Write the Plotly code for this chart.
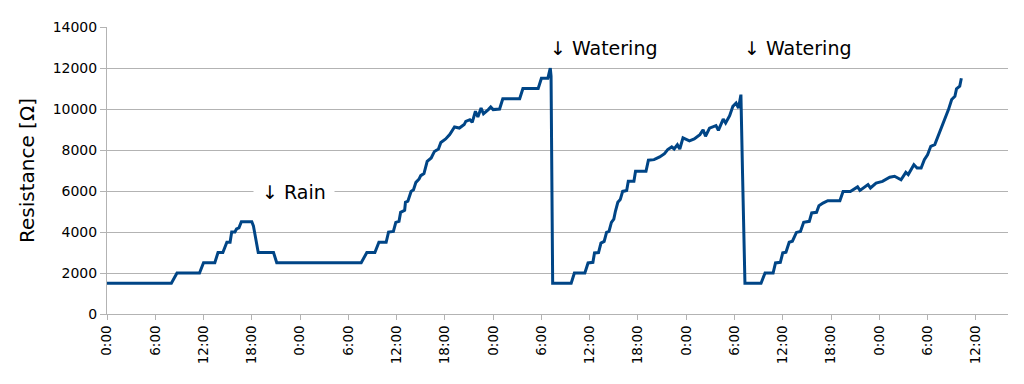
import plotly.graph_objects as go

# time in hours since the first midnight, and measured resistance in ohms
hours = [0, 8.0, 8.7, 11.5, 12.0, 13.4, 13.8, 14.4, 14.9, 15.3, 15.5, 15.9, 16.1, 16.4, 16.7, 18.0,
         18.2, 18.4, 18.6, 18.8, 20.7, 21.1, 31.6, 32.3, 33.3,
         33.8, 34.7, 35.0, 35.6, 35.9, 36.3, 36.5, 37.0, 37.1, 37.4, 37.8, 38.1, 38.4, 38.8, 39.0,
         39.4, 39.8, 40.3, 40.7, 41.2, 41.5, 42.1, 42.6, 43.2, 43.8, 44.4, 44.6, 45.1, 45.4, 45.8,
         46.1, 46.5, 46.8, 47.4, 47.7, 48.0, 48.8, 49.2, 51.3, 51.7, 53.6, 54.0, 54.8, 55.1, 55.2,
         55.4, 57.7, 58.1,
         59.4, 59.8, 60.4, 60.6, 61.1, 61.4, 61.8, 62.1, 62.4, 62.7, 63.0, 63.2, 63.5, 63.8, 64.1,
         64.6, 64.8, 65.5, 65.7, 67.0, 67.3, 68.0, 68.7, 69.3, 69.7, 70.2, 70.5, 70.9, 71.2, 71.6,
         72.4, 73.0, 73.7, 74.1, 74.4, 74.9, 75.7, 76.0, 76.6, 76.9, 77.4, 77.8, 78.2, 78.5, 78.8,
         79.0, 79.3, 81.3, 81.8,
         82.8, 83.1, 83.7, 84.0, 84.4, 84.8, 85.2, 85.7, 86.2, 86.6, 87.3, 87.6, 88.2, 88.5, 89.0,
         89.6, 91.1, 91.5, 92.4, 92.9, 93.3, 93.6, 94.0, 94.6, 94.9, 95.6, 96.4, 97.3, 97.9, 98.7,
         99.3, 99.6, 100.3, 100.7, 101.2, 101.6, 102.0, 102.4, 102.9, 103.3, 103.7, 104.1, 104.6,
         105.0, 105.4, 105.6, 106.0, 106.2]

resistance = [1500, 1500, 2000, 2000, 2500, 2500, 3000, 3000, 3500, 3500, 4000, 4000, 4150, 4200, 4500, 4500,
              4300, 3800, 3400, 3000, 3000, 2500, 2500, 3000, 3000,
              3500, 3500, 4000, 4030, 4470, 4520, 4960, 5060, 5450, 5500, 5980, 6060, 6420, 6590, 6750,
              6850, 7450, 7610, 7930, 8050, 8370, 8540, 8750, 9120, 9070, 9240, 9400, 9480, 9350, 9890,
              9610, 10050, 9770, 9970, 10100, 9970, 10000, 10500, 10500, 11000, 11000, 11500, 11500, 12000, 11600,
              1500, 1500, 2000,
              2000, 2490, 2520, 2980, 3000, 3460, 3540, 3980, 4030, 4470, 4630, 5010, 5450, 5580, 5980,
              6020, 6470, 6470, 6960, 6960, 7500, 7530, 7660, 7820, 8020, 8150, 8050, 8260, 8050, 8590,
              8450, 8540, 8750, 8990, 8670, 9070, 9190, 8960, 9510, 9320, 9670, 10130, 10290, 10050, 10700,
              6880, 1500, 1500, 2000,
              2000, 2490, 2520, 2980, 3010, 3500, 3550, 3980, 4030, 4470, 4520, 4930, 4960, 5280, 5410,
              5530, 5530, 5980, 5980, 6100, 6200, 6030, 6150, 6310, 6150, 6390, 6470, 6670, 6720, 6550,
              6910, 6800, 7280, 7120, 7120, 7530, 7770, 8180, 8260, 8670, 8990, 9480, 9970,
              10460, 10620, 10980, 11110, 11500]

tick_hours = list(range(0, 109, 6))
tick_labels = ["0:00", "6:00", "12:00", "18:00"] * 4 + ["0:00", "6:00", "12:00"]

annotations_text = ["↓ Rain", "↓ Watering", "↓ Watering"]
annotations_x = [19.3, 55.1, 79.2]
annotations_y = [5950, 12975, 12975]

FONT = "DejaVu Sans"

fig = go.Figure()
fig.add_trace(go.Scatter(
    x=hours, y=resistance, mode="lines",
    line=dict(color="#004586", width=3),
    hoverinfo="skip", showlegend=False,
))

for t, x, y in zip(annotations_text, annotations_x, annotations_y):
    fig.add_annotation(
        x=x, y=y, text=t, showarrow=False, xanchor="left", yanchor="middle",
        font=dict(family=FONT, size=19, color="#000000"),
        bgcolor="#ffffff", borderpad=8, xshift=-9,
    )

fig.update_layout(
    width=1016, height=376,
    margin=dict(l=99, r=16, t=19, b=70),
    paper_bgcolor="#ffffff", plot_bgcolor="#ffffff",
    font=dict(family=FONT, size=13, color="#000000"),
    xaxis=dict(
        range=[0, 112], tickmode="array", tickvals=tick_hours, ticktext=tick_labels,
        tickangle=-90, ticks="outside", ticklen=5, tickcolor="#b3b3b3",
        showline=True, linecolor="#b3b3b3", linewidth=1,
        showgrid=False, zeroline=False, automargin=False,
        tickfont=dict(family=FONT, size=13.5, color="#000000"),
    ),
    yaxis=dict(
        range=[0, 14000], tick0=0, dtick=2000, tickformat="d",
        ticks="outside", ticklen=6, tickcolor="#b3b3b3",
        showline=True, linecolor="#b3b3b3", linewidth=1,
        showgrid=True, gridcolor="#b3b3b3", gridwidth=1, zeroline=False,
        automargin=False,
        tickfont=dict(family=FONT, size=14, color="#000000"),
        title=dict(text="Resistance [Ω]", font=dict(family=FONT, size=20, color="#000000"), standoff=12),
    ),
)

fig.write_html("out.html")
